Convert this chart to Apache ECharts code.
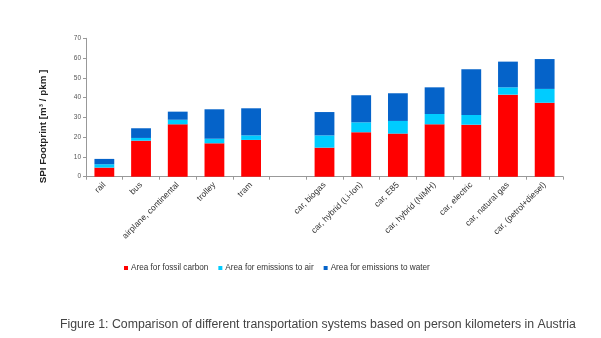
<!DOCTYPE html>
<html>
<head>
<meta charset="utf-8">
<script src="https://cdn.jsdelivr.net/npm/echarts@6/dist/echarts.min.js"></script>
<style>
html,body{margin:0;padding:0;background:#fff;}
#chart{width:601px;height:338px;}
</style>
</head>
<body>
<div id="chart"></div>
<script>
const categories = ['rail','bus','airplane, continental','trolley','tram','','car, biogas','car, hybrid (Li-Ion)','car, E85','car, hybrid (NiMH)','car, electric','car, natural gas','car, (petrol+diesel)'];
const fossilCarbon = [4.6, 18.2, 26.5, 16.9, 18.6, '-', 14.7, 22.5, 21.8, 26.5, 26.3, 41.5, 37.4];
const emissionsAir = [1.7, 1.4, 2.3, 2.3, 2.3, '-', 6.2, 5.0, 6.4, 5.2, 4.9, 3.7, 7.0];
const emissionsWater = [2.7, 4.9, 4.1, 14.9, 13.7, '-', 11.8, 13.7, 14.0, 13.5, 23.1, 13.0, 15.1];
const seriesNames = ['Area for fossil carbon','Area for emissions to air','Area for emissions to water'];
const yTicks = {min:0, max:70, interval:10};
const yTitle = 'SPI Footprint [m³ / pkm ]';
const caption = 'Figure 1: Comparison of different transportation systems based on person kilometers in Austria';

const colors = ['#FF0000','#00CCFF','#0563C9'];
const chart = echarts.init(document.getElementById('chart'), null, {renderer:'canvas'});
const mk = (name, data, i) => ({
  name, type:'bar', stack:'total', data, barCategoryGap:'46%',
  itemStyle:{color:colors[i]}
});
chart.setOption({
  animation:false,
  textStyle:{fontFamily:'Liberation Sans'},
  grid:{left:86, right:38, top:38.3, bottom:161.3, containLabel:false},
  legend:{
    data:seriesNames, left:119, top:259, itemWidth:4, itemHeight:4, itemGap:10,
    icon:'rect',
    textStyle:{fontSize:8.2, color:'#333', padding:[0,0,0,-2]}
  },
  xAxis:{
    type:'category', data:categories,
    axisLine:{lineStyle:{color:'#999'}},
    axisTick:{show:true, length:3, lineStyle:{color:'#999'}},
    axisLabel:{rotate:45, fontSize:8.5, color:'#333', margin:7, interval:0}
  },
  yAxis:{
    type:'value', min:yTicks.min, max:yTicks.max, interval:yTicks.interval,
    splitLine:{show:false},
    axisLine:{show:true, lineStyle:{color:'#999'}},
    axisTick:{show:true, length:3, lineStyle:{color:'#999'}},
    axisLabel:{fontSize:6.5, color:'#555', margin:5}
  },
  series:[mk(seriesNames[0], fossilCarbon, 0), mk(seriesNames[1], emissionsAir, 1), mk(seriesNames[2], emissionsWater, 2)],
  graphic:[
    {type:'text', x:43, y:126.5, rotation:Math.PI/2,
     style:{text:yTitle, font:'bold 9.8px Liberation Sans', fill:'#222', textAlign:'center', textVerticalAlign:'middle'}},
    {type:'text', left:60, top:319, style:{text:caption, font:'12.3px Liberation Sans', fill:'#444'}}
  ]
});
</script>
</body>
</html>
